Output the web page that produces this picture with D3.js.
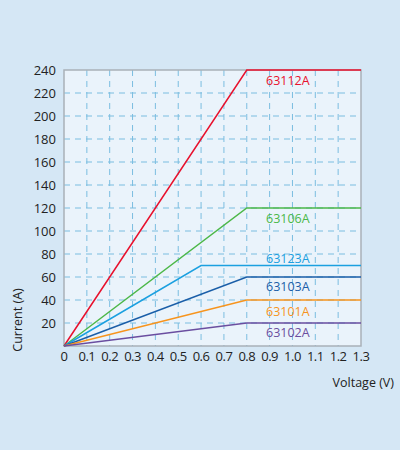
<!DOCTYPE html>
<html><head><meta charset="utf-8">
<script src="https://cdn.jsdelivr.net/npm/d3@7"></script>
<style>body{margin:0;background:#d5e7f5;}svg{display:block;font-family:"Open Sans",sans-serif;}</style>
</head><body><svg id="c" width="400" height="450"></svg>
<script>
const models = ["63112A", "63106A", "63123A", "63103A", "63101A", "63102A"];
const kneeV = [0.8, 0.8, 0.6, 0.8, 0.8, 0.8];
const maxI = [240, 120, 70, 60, 40, 20];
const colors = ["#e8112d", "#4cb848", "#1ba0e0", "#1a5ea8", "#f7941d", "#6a4ea0"];
const labelY = [80, 218, 258, 286, 311, 332];
const xTicks = d3.range(0, 14).map(d => d / 10);
const yTicks = d3.range(20, 241, 20);

const svg = d3.select("#c");
const x = d3.scaleLinear().domain([0, 1.3]).range([64, 361]);
const y = d3.scaleLinear().domain([0, 240]).range([346, 70]);

svg.append("rect").attr("x", 64).attr("y", 70).attr("width", 297).attr("height", 276)
  .attr("fill", "#eaf3fb");

svg.selectAll(".gx").data(xTicks.slice(1, -1)).enter().append("line")
  .attr("x1", d => x(d)).attr("x2", d => x(d)).attr("y1", 70).attr("y2", 346)
  .attr("stroke", "#7bbde0").attr("stroke-dasharray", "6,5");
svg.selectAll(".gy").data(yTicks.slice(0, -1)).enter().append("line")
  .attr("y1", d => y(d)).attr("y2", d => y(d)).attr("x1", 64).attr("x2", 361)
  .attr("stroke", "#7bbde0").attr("stroke-dasharray", "6,5");

svg.append("rect").attr("x", 64).attr("y", 70).attr("width", 297).attr("height", 276)
  .attr("fill", "none").attr("stroke", "#a9b1b8").attr("stroke-width", 1.5);

svg.selectAll(".xl").data(xTicks).enter().append("text")
  .attr("x", d => x(d)).attr("y", 361).attr("text-anchor", "middle")
  .attr("font-size", 13).attr("letter-spacing", -0.5).attr("fill", "#222")
  .text(d => d === 0 ? "0" : d3.format(".1f")(d));
svg.selectAll(".yl").data(yTicks).enter().append("text")
  .attr("x", 56).attr("y", d => y(d) + 4.5).attr("text-anchor", "end")
  .attr("font-size", 13).attr("fill", "#222").text(d => d);

svg.append("text").attr("x", 394).attr("y", 387).attr("text-anchor", "end")
  .attr("font-size", 12.5).attr("fill", "#222").text("Voltage (V)");
svg.append("text").attr("transform", "translate(22,320) rotate(-90)").attr("text-anchor", "middle")
  .attr("font-size", 12.5).attr("fill", "#222").text("Current (A)");

const line = d3.line().x(d => x(d[0])).y(d => y(d[1]));
models.forEach((m, i) => {
  svg.append("path").attr("d", line([[0, 0], [kneeV[i], maxI[i]], [1.3, maxI[i]]]))
    .attr("fill", "none").attr("stroke", colors[i]).attr("stroke-width", 1.5);
  svg.append("text").attr("x", 266).attr("y", labelY[i] + 4.5)
    .attr("font-size", 12.5).attr("fill", colors[i]).text(m);
});
</script></body></html>
